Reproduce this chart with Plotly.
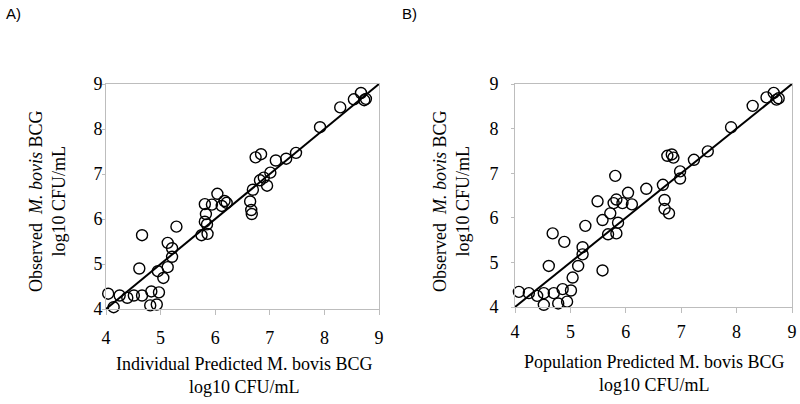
import plotly.graph_objects as go

# Panel A: individual predicted vs observed
ind_pred = [4.04, 4.14, 4.25, 4.39, 4.51, 4.66, 4.66, 4.61, 4.83, 4.81,
            4.93, 4.97, 4.95, 5.05, 5.13, 5.13, 5.21, 5.21, 5.29, 5.75,
            5.86, 5.81, 5.85, 5.83, 5.81, 5.94, 6.04, 6.12, 6.17, 6.21,
            6.64, 6.66, 6.67, 6.69, 6.74, 6.84, 6.82, 6.89, 6.95, 7.01,
            7.11, 7.30, 7.48, 7.92, 8.29, 8.54, 8.67, 8.73, 8.76]
obs_a = [4.34, 4.04, 4.30, 4.25, 4.30, 4.30, 5.64, 4.90, 4.39, 4.08,
         4.10, 4.37, 4.84, 4.69, 4.93, 5.47, 5.35, 5.16, 5.83, 5.64,
         5.67, 5.94, 5.88, 6.11, 6.33, 6.32, 6.56, 6.29, 6.40, 6.36,
         6.39, 6.20, 6.11, 6.65, 7.37, 7.44, 6.86, 6.92, 6.74, 7.03,
         7.30, 7.34, 7.47, 8.04, 8.48, 8.66, 8.80, 8.64, 8.67]

# Panel B: population predicted vs observed
pop_pred = [4.07, 4.25, 4.40, 4.52, 4.52, 4.61, 4.68, 4.70, 4.78, 4.86,
            4.89, 4.94, 5.01, 5.04, 5.14, 5.22, 5.22, 5.27, 5.49, 5.58,
            5.58, 5.68, 5.72, 5.78, 5.81, 5.83, 5.83, 5.86, 5.94, 6.04,
            6.11, 6.37, 6.67, 6.70, 6.70, 6.78, 6.75, 6.83, 6.86, 6.98,
            6.98, 7.23, 7.48, 7.90, 8.29, 8.54, 8.67, 8.72, 8.76]
obs_b = [4.34, 4.31, 4.25, 4.31, 4.05, 4.92, 5.65, 4.31, 4.08, 4.40,
         5.46, 4.12, 4.37, 4.66, 4.92, 5.34, 5.18, 5.82, 6.37, 4.82,
         5.95, 5.63, 6.10, 6.33, 6.94, 6.41, 5.65, 5.89, 6.33, 6.56,
         6.30, 6.65, 6.74, 6.40, 6.20, 6.10, 7.39, 7.42, 7.35, 7.04,
         6.88, 7.30, 7.49, 8.03, 8.51, 8.70, 8.80, 8.65, 8.68]

identity = [4, 9]
tick_vals = [4, 5, 6, 7, 8, 9]
tick_text = ["4", "5", "6", "7", "8", "9"]

SERIF = "Liberation Serif, Times New Roman, serif"
GRAY = "#bdbdbd"

fig = go.Figure()

for xs, ys, xa, ya in [(ind_pred, obs_a, "x", "y"), (pop_pred, obs_b, "x2", "y2")]:
    fig.add_trace(go.Scatter(x=identity, y=identity, mode="lines",
                             line=dict(color="black", width=2),
                             xaxis=xa, yaxis=ya, showlegend=False, hoverinfo="skip"))
    fig.add_trace(go.Scatter(x=xs, y=ys, mode="markers",
                             marker=dict(symbol="circle-open", size=11,
                                         color="black", line=dict(width=1.4)),
                             cliponaxis=False,
                             xaxis=xa, yaxis=ya, showlegend=False))

axis_common = dict(range=[4, 9], tickvals=tick_vals, ticktext=tick_text,
                   showline=True, linecolor=GRAY, linewidth=1, mirror=True,
                   ticks="outside", tickcolor=GRAY, showgrid=False, zeroline=False,
                   automargin=False,
                   tickfont=dict(family=SERIF, size=18, color="black"))

fig.update_layout(
    template="none",
    width=800, height=404,
    margin=dict(l=0, r=0, t=0, b=0, autoexpand=False),
    paper_bgcolor="white", plot_bgcolor="white",
    xaxis=dict(domain=[106/800, 379/800], anchor="y", ticklen=5,
               ticklabelstandoff=7, **axis_common),
    yaxis=dict(domain=[1-309/404, 1-84/404], anchor="x", ticklen=3,
               ticklabelstandoff=-4, **axis_common),
    xaxis2=dict(domain=[515/800, 792/800], anchor="y2", ticklen=5,
                ticklabelstandoff=3, **axis_common),
    yaxis2=dict(domain=[1-307/404, 1-84/404], anchor="x2", ticklen=3,
                ticklabelstandoff=9, **axis_common),
)

title_font = dict(family=SERIF, size=18, color="black")
ylab = "Observed  <i>M. bovis</i> BCG<br>log10 CFU/mL"

annotations = [
    dict(text="A)", x=4/800, y=1-13/404, xanchor="left", yanchor="middle",
         font=dict(family="Liberation Sans, Arial, sans-serif", size=15, color="black")),
    dict(text="B)", x=400/800, y=1-13/404, xanchor="left", yanchor="middle",
         font=dict(family="Liberation Sans, Arial, sans-serif", size=15, color="black")),
    dict(text="Individual Predicted M. bovis BCG<br>log10 CFU/mL",
         x=244/800, y=1-375/404, xanchor="center", yanchor="middle", font=title_font),
    dict(text="Population Predicted M. bovis BCG<br>log10 CFU/mL",
         x=654/800, y=1-373/404, xanchor="center", yanchor="middle", font=title_font),
    dict(text=ylab, textangle=-90, x=47/800, y=1-201/404,
         xanchor="center", yanchor="middle", font=title_font),
    dict(text=ylab, textangle=-90, x=451/800, y=1-201/404,
         xanchor="center", yanchor="middle", font=title_font),
]
for a in annotations:
    a.update(xref="paper", yref="paper", showarrow=False)
fig.update_layout(annotations=annotations)

fig.write_html("out.html",
               config={"displayModeBar": False},
               post_script="document.body.style.margin='0';document.body.style.overflow='hidden';")
